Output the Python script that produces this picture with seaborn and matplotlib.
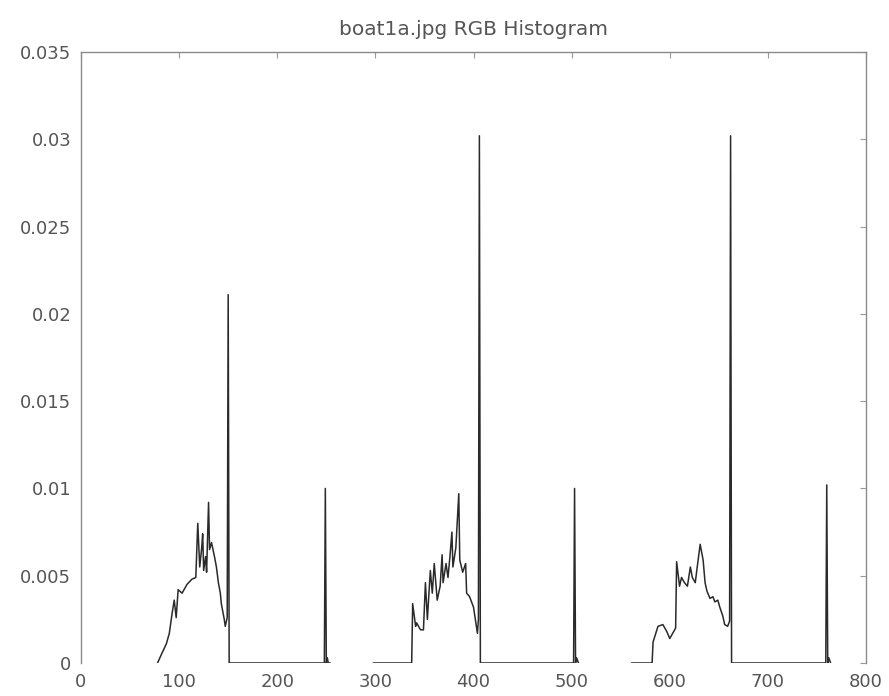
import numpy as np
import pandas as pd
import matplotlib
matplotlib.use("Agg")
import matplotlib.pyplot as plt
import seaborn as sns

# ---- data ----
title = "boat1a.jpg RGB Histogram"

red_x = [78, 82, 87, 90, 93, 95, 97, 99, 103, 108, 113, 117, 119, 121, 123, 124,
         125, 127, 128, 130, 131, 133, 136, 138, 140, 142, 143, 146, 147, 149, 150,
         151, 152, 248, 249, 250, 251, 252, 254]
red_y = [0.0, 0.0005, 0.0011, 0.0017, 0.0029, 0.0036, 0.0026, 0.0042, 0.0040, 0.0045,
         0.0048, 0.0049, 0.0080, 0.0055, 0.0066, 0.0074, 0.0053, 0.0061, 0.0052,
         0.0092, 0.0065, 0.0069, 0.0061, 0.0055, 0.0046, 0.0040, 0.0034, 0.0025,
         0.0021, 0.0026, 0.0211, 0.0, 0.0, 0.0, 0.0100, 0.0, 0.0003, 0.0, 0.0]

green_x = [298, 337, 338, 341, 342, 346, 349, 351, 353, 356, 358, 360, 363, 366, 368,
           369, 372, 374, 376, 378, 379, 382, 385, 386, 389, 392, 393, 396, 400, 404,
           405, 406, 407, 502, 503, 504, 505, 507]
green_y = [0.0, 0.0, 0.0034, 0.0021, 0.0023, 0.0019, 0.0019, 0.0046, 0.0025, 0.0053,
           0.0040, 0.0057, 0.0036, 0.0044, 0.0062, 0.0046, 0.0057, 0.0049, 0.0061,
           0.0075, 0.0055, 0.0066, 0.0097, 0.0059, 0.0052, 0.0057, 0.0040, 0.0038,
           0.0032, 0.0017, 0.0025, 0.0302, 0.0, 0.0, 0.0100, 0.0, 0.0003, 0.0]

blue_x = [561, 582, 583, 588, 593, 597, 600, 604, 606, 607, 610, 612, 615, 618, 621,
          623, 626, 628, 631, 634, 636, 638, 641, 644, 646, 649, 651, 654, 656, 659,
          661, 662, 663, 759, 760, 761, 762, 764]
blue_y = [0.0, 0.0, 0.0012, 0.0021, 0.0022, 0.0018, 0.0014, 0.0018, 0.0020, 0.0058,
          0.0044, 0.0049, 0.0046, 0.0044, 0.0055, 0.0049, 0.0046, 0.0055, 0.0068,
          0.0059, 0.0046, 0.0041, 0.0037, 0.0038, 0.0035, 0.0036, 0.0032, 0.0027,
          0.0022, 0.0021, 0.0024, 0.0302, 0.0, 0.0, 0.0102, 0.0, 0.0003, 0.0]

x_ticks = [0, 100, 200, 300, 400, 500, 600, 700, 800]
x_ticklabels = ["0", "100", "200", "300", "400", "500", "600", "700", "800"]
y_ticks = [0, 0.005, 0.01, 0.015, 0.02, 0.025, 0.03, 0.035]
y_ticklabels = ["0", "0.005", "0.01", "0.015", "0.02", "0.025", "0.03", "0.035"]

# ---- build table ----
frames = []
for name, xs, ys in [("R", red_x, red_y), ("G", green_x, green_y), ("B", blue_x, blue_y)]:
    frames.append(pd.DataFrame({"x": xs, "y": ys, "channel": name}))
df = pd.concat(frames, ignore_index=True)

sns.set_theme(style="white")
plt.rcParams["font.family"] = ["DejaVu Sans"]

W, H = 889, 696
fig = plt.figure(figsize=(W / 100, H / 100), dpi=100)
left, right, top, bottom = 81, 866, 52, 663
ax = fig.add_axes([left / W, 1 - bottom / H, (right - left) / W, (bottom - top) / H])

for ch in ["R", "G", "B"]:
    sns.lineplot(data=df[df["channel"] == ch], x="x", y="y", ax=ax,
                 estimator=None, sort=False, color="#2a2a2a", linewidth=1.1)

ax.set_xlim(0, 800)
ax.set_ylim(0, 0.035)
ax.set_xticks(x_ticks)
ax.set_xticklabels(x_ticklabels)
ax.set_yticks(y_ticks)
ax.set_yticklabels(y_ticklabels)
ax.set_xlabel("")
ax.set_ylabel("")

ax.tick_params(axis="both", direction="in", length=4, width=0.8, colors="#9a9a9a",
               labelcolor="#555555", labelsize=13, top=True, right=True,
               bottom=False, pad=7)
for side in ["left", "top", "right"]:
    ax.spines[side].set_visible(True)
    ax.spines[side].set_color("#8a8a8a")
    ax.spines[side].set_linewidth(1.0)
ax.spines["bottom"].set_visible(False)

ax.set_title(title, fontsize=14.5, color="#555555", pad=12)

fig.savefig("out.png", dpi=100)
